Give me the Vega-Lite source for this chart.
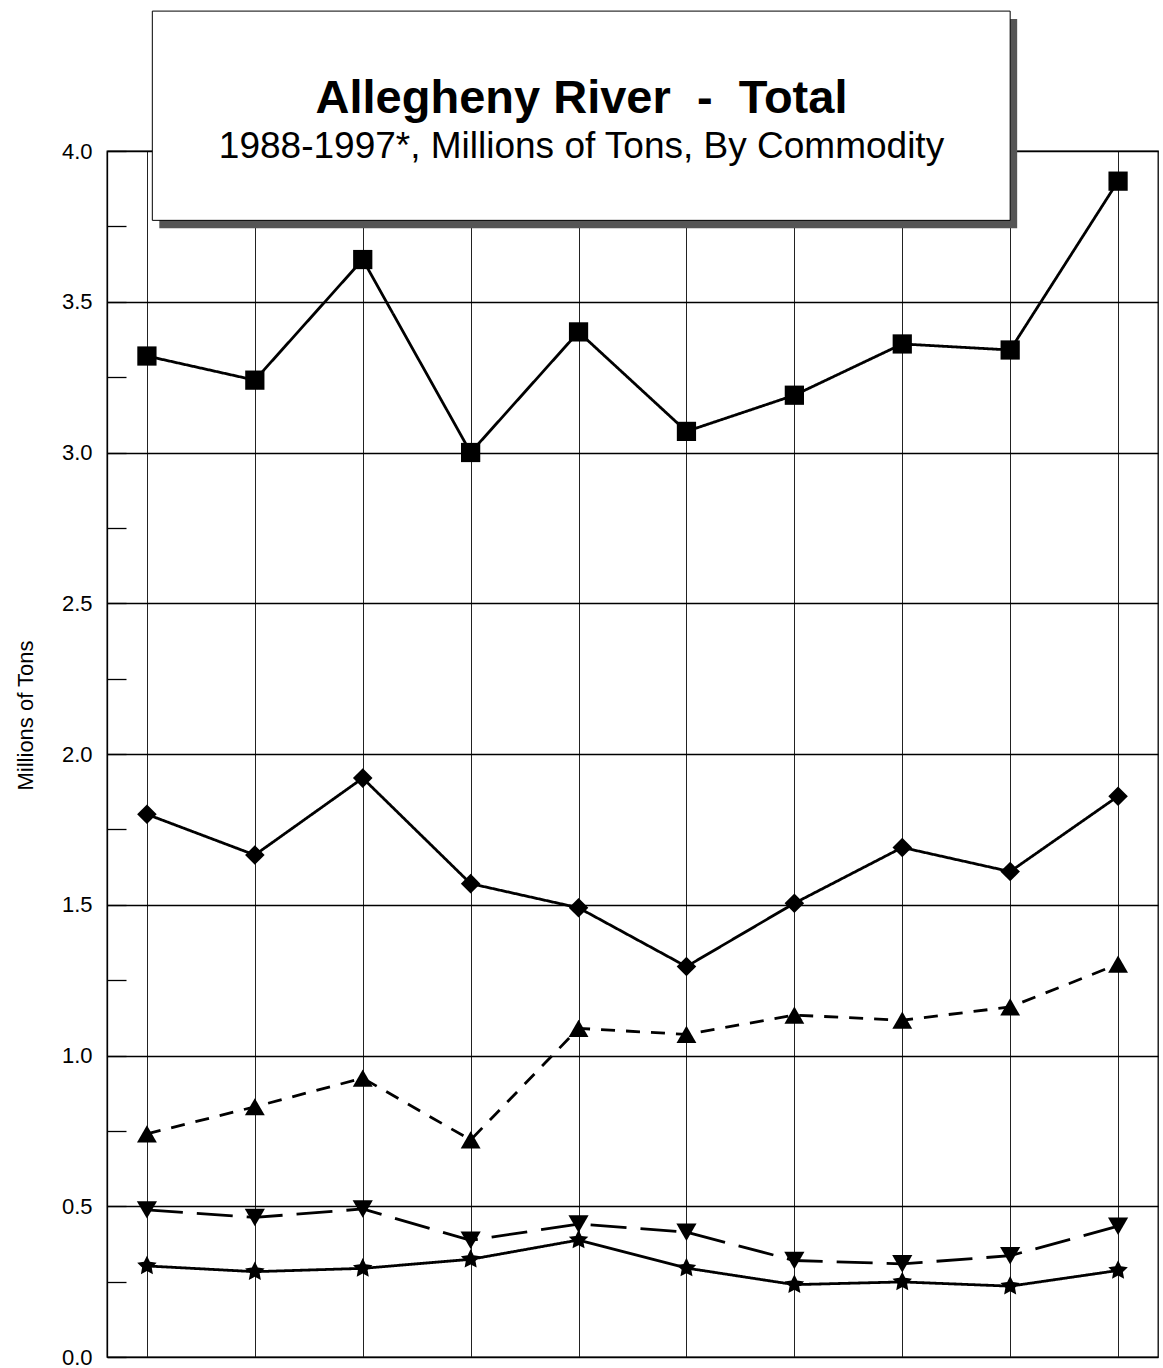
{
  "$schema": "https://vega.github.io/schema/vega-lite/v6.json",
  "width": 1051,
  "height": 1206,
  "autosize": {"type": "none"},
  "padding": {"left": 107, "top": 151, "right": 5, "bottom": 11},
  "background": "white",
  "config": {
    "view": {"stroke": "black", "strokeWidth": 1.3},
    "font": "Liberation Sans"
  },
  "title": {
    "text": "Allegheny River \u00a0-\u00a0 Total",
    "subtitle": "1988-1997*, Millions of Tons, By Commodity",
    "anchor": "middle",
    "frame": "group",
    "dx": -51,
    "offset": -155,
    "zindex": 2,
    "font": "Liberation Sans",
    "fontSize": 47,
    "fontWeight": "bold",
    "color": "black",
    "subtitleFont": "Liberation Sans",
    "subtitleFontSize": 37,
    "subtitleColor": "black",
    "subtitlePadding": 6
  },
  "data": {
    "values": [
      {"year": 1988, "series": "Total", "value": 3.32},
      {"year": 1989, "series": "Total", "value": 3.24},
      {"year": 1990, "series": "Total", "value": 3.64},
      {"year": 1991, "series": "Total", "value": 3.0},
      {"year": 1992, "series": "Total", "value": 3.4},
      {"year": 1993, "series": "Total", "value": 3.07},
      {"year": 1994, "series": "Total", "value": 3.19},
      {"year": 1995, "series": "Total", "value": 3.36},
      {"year": 1996, "series": "Total", "value": 3.34},
      {"year": 1997, "series": "Total", "value": 3.9},
      {"year": 1988, "series": "Commodity 1", "value": 1.8},
      {"year": 1989, "series": "Commodity 1", "value": 1.665},
      {"year": 1990, "series": "Commodity 1", "value": 1.92},
      {"year": 1991, "series": "Commodity 1", "value": 1.57},
      {"year": 1992, "series": "Commodity 1", "value": 1.49},
      {"year": 1993, "series": "Commodity 1", "value": 1.295},
      {"year": 1994, "series": "Commodity 1", "value": 1.505},
      {"year": 1995, "series": "Commodity 1", "value": 1.69},
      {"year": 1996, "series": "Commodity 1", "value": 1.61},
      {"year": 1997, "series": "Commodity 1", "value": 1.86},
      {"year": 1988, "series": "Commodity 2", "value": 0.74},
      {"year": 1989, "series": "Commodity 2", "value": 0.83},
      {"year": 1990, "series": "Commodity 2", "value": 0.925},
      {"year": 1991, "series": "Commodity 2", "value": 0.72},
      {"year": 1992, "series": "Commodity 2", "value": 1.09},
      {"year": 1993, "series": "Commodity 2", "value": 1.07},
      {"year": 1994, "series": "Commodity 2", "value": 1.134},
      {"year": 1995, "series": "Commodity 2", "value": 1.117},
      {"year": 1996, "series": "Commodity 2", "value": 1.161},
      {"year": 1997, "series": "Commodity 2", "value": 1.303},
      {"year": 1988, "series": "Commodity 3", "value": 0.488},
      {"year": 1989, "series": "Commodity 3", "value": 0.463},
      {"year": 1990, "series": "Commodity 3", "value": 0.491},
      {"year": 1991, "series": "Commodity 3", "value": 0.387},
      {"year": 1992, "series": "Commodity 3", "value": 0.441},
      {"year": 1993, "series": "Commodity 3", "value": 0.414},
      {"year": 1994, "series": "Commodity 3", "value": 0.32},
      {"year": 1995, "series": "Commodity 3", "value": 0.309},
      {"year": 1996, "series": "Commodity 3", "value": 0.336},
      {"year": 1997, "series": "Commodity 3", "value": 0.434},
      {"year": 1988, "series": "Commodity 4", "value": 0.302},
      {"year": 1989, "series": "Commodity 4", "value": 0.283},
      {"year": 1990, "series": "Commodity 4", "value": 0.294},
      {"year": 1991, "series": "Commodity 4", "value": 0.324},
      {"year": 1992, "series": "Commodity 4", "value": 0.388},
      {"year": 1993, "series": "Commodity 4", "value": 0.295},
      {"year": 1994, "series": "Commodity 4", "value": 0.24},
      {"year": 1995, "series": "Commodity 4", "value": 0.249},
      {"year": 1996, "series": "Commodity 4", "value": 0.235},
      {"year": 1997, "series": "Commodity 4", "value": 0.287}
    ]
  },
  "layer": [
    {
      "mark": {"type": "line", "strokeWidth": 2.8, "color": "black"},
      "encoding": {
        "x": {
          "field": "year",
          "type": "quantitative",
          "scale": {"domain": [1987.63, 1997.37], "nice": false, "zero": false},
          "axis": {
            "values": [1988, 1989, 1990, 1991, 1992, 1993, 1994, 1995, 1996, 1997],
            "labels": false,
            "ticks": false,
            "domain": false,
            "title": null,
            "grid": true,
            "gridColor": "#222222",
            "gridWidth": 1
          }
        },
        "y": {
          "field": "value",
          "type": "quantitative",
          "scale": {"domain": [0, 4], "nice": false, "zero": false},
          "axis": {
            "values": [0, 0.25, 0.5, 0.75, 1, 1.25, 1.5, 1.75, 2, 2.25, 2.5, 2.75, 3, 3.25, 3.5, 3.75, 4],
            "labelExpr": "datum.value % 0.5 === 0 ? format(datum.value, '.1f') : ''",
            "labelOverlap": false,
            "labelFont": "Liberation Sans",
            "labelFontSize": 22,
            "labelColor": "black",
            "labelPadding": 34,
            "grid": true,
            "gridColor": "black",
            "gridWidth": 1.3,
            "gridOpacity": {"condition": {"test": "datum.value % 0.5 === 0", "value": 1}, "value": 0},
            "tickSize": -19,
            "tickColor": "black",
            "tickWidth": 1.3,
            "domain": true,
            "domainColor": "black",
            "domainWidth": 1.3,
            "title": "Millions of Tons",
            "titleFont": "Liberation Sans",
            "titleFontSize": 22,
            "titleFontWeight": "normal",
            "titleColor": "black",
            "titleAngle": -90,
            "titleX": -82,
            "titleY": 564,
            "titleAlign": "center",
            "titleBaseline": "middle"
          }
        },
        "strokeDash": {
          "field": "series",
          "type": "nominal",
          "scale": {
            "domain": ["Total", "Commodity 1", "Commodity 2", "Commodity 3", "Commodity 4"],
            "range": [[1, 0], [1, 0], [14, 11], [36, 14], [1, 0]]
          },
          "legend": null
        }
      }
    },
    {
      "mark": {"type": "point", "filled": true, "opacity": 1, "color": "black"},
      "encoding": {
        "x": {"field": "year", "type": "quantitative"},
        "y": {"field": "value", "type": "quantitative"},
        "shape": {
          "field": "series",
          "type": "nominal",
          "scale": {
            "domain": ["Total", "Commodity 1", "Commodity 2", "Commodity 3", "Commodity 4"],
            "range": ["square", "diamond", "triangle-up", "triangle-down", "M0,-1L0.29,-0.4L0.951,-0.309L0.47,0.153L0.588,0.809L0,0.5L-0.588,0.809L-0.47,0.153L-0.951,-0.309L-0.29,-0.4Z"]
          },
          "legend": null
        },
        "size": {
          "field": "series",
          "type": "nominal",
          "scale": {
            "domain": ["Total", "Commodity 1", "Commodity 2", "Commodity 3", "Commodity 4"],
            "range": [370, 420, 420, 420, 480]
          },
          "legend": null
        }
      }
    },
    {
      "data": {"values": [{"box": "shadow"}]},
      "mark": {"type": "rect", "color": "#555555", "xOffset": 7, "x2Offset": 7, "yOffset": 8, "y2Offset": 8},
      "encoding": {
        "x": {"datum": 1988.05, "type": "quantitative"},
        "x2": {"datum": 1996.0},
        "y": {"datum": 4.464, "type": "quantitative"},
        "y2": {"datum": 3.77}
      }
    },
    {
      "data": {"values": [{"box": "frame"}]},
      "mark": {"type": "rect", "fill": "white", "stroke": "black", "strokeWidth": 1},
      "encoding": {
        "x": {"datum": 1988.05, "type": "quantitative"},
        "x2": {"datum": 1996.0},
        "y": {"datum": 4.464, "type": "quantitative"},
        "y2": {"datum": 3.77}
      }
    }
  ]
}
